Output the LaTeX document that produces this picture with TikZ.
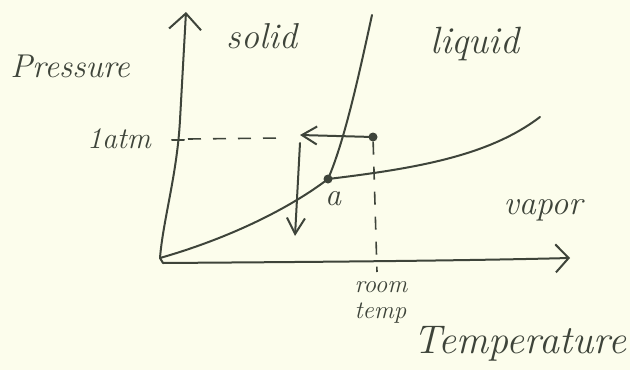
\documentclass[tikz,border=0pt]{standalone}
\usetikzlibrary{arrows.meta}
\definecolor{ink}{RGB}{62,68,58}
\definecolor{paper}{RGB}{252,253,236}
\begin{document}
\begin{tikzpicture}[x=1pt,y=-1pt,
  pen/.style={draw=ink,line width=2pt,line cap=round,line join=round},
  guide/.style={draw=ink,line width=1.6pt,dash pattern=on 13pt off 12pt},
  hand/.style={text=ink,font=\itshape,inner sep=0pt},
  dotpt/.style={circle,fill=ink,inner sep=0pt,minimum size=9pt}]
\useasboundingbox[fill=paper] (0,0) rectangle (630,370);
% key points
\coordinate (origin) at (160,258);
\coordinate (ytop) at (186,12);
\coordinate (xend) at (570,258);
\coordinate (tickL) at (172,140);
\coordinate (tickR) at (184,140);
\coordinate (dashstart) at (188,139);
\coordinate (dashend) at (282,138);
\coordinate (axisroom) at (377,272);
\coordinate (harrowtip) at (300,135);
\coordinate (dstart) at (300,143);
\coordinate (dtip) at (295,236);
\coordinate (melttop) at (372,15);
\coordinate (vapend) at (540,117);
\node[dotpt] (tp) at (328,179) {};
\node[dotpt] (pt) at (373,137) {};
% axes
\draw[pen,-{Straight Barb[length=16pt,width=32pt,line width=2pt]}] (origin) .. controls (163,220) and (177,175) .. (180,120) -- (ytop);
\draw[pen,-{Straight Barb[length=13pt,width=28pt,line width=2pt]}] (origin) -- (163,263) .. controls (300,262) and (450,261) .. (xend);
\draw[pen] (tickL) -- (tickR);
% guides
\draw[guide] (dashstart) -- (dashend);
\draw[guide] (pt) -- (axisroom);
% phase boundaries
\draw[pen] (origin) .. controls (230,238) and (290,208) .. (tp.center);
\draw[pen] (tp.center) .. controls (345,140) and (360,70) .. (melttop);
\draw[pen] (tp.center) .. controls (420,168) and (490,155) .. (vapend);
% path arrows
\draw[pen,-{Straight Barb[length=15pt,width=18pt,line width=2pt]}] (pt.center) -- (harrowtip);
\draw[pen,-{Straight Barb[length=16pt,width=18pt,line width=2pt]}] (dstart) -- (dtip);
% labels
\node[hand,font=\itshape\fontsize{33}{34}\selectfont] (lp) at (70,66) {Pressure};
\node[hand,font=\itshape\fontsize{30}{30}\selectfont] (latm) at (119,139) {1atm};
\node[hand,font=\itshape\fontsize{36}{36}\selectfont] (lsolid) at (262,36) {solid};
\node[hand,font=\itshape\fontsize{38}{38}\selectfont] (lliquid) at (475,44) {liquid};
\node[hand,font=\itshape\fontsize{34}{34}\selectfont] (lvapor) at (543,210) {vapor};
\node[hand,font=\itshape\fontsize{32}{32}\selectfont] (la) at (333,199) {a};
\node[hand,font=\itshape\fontsize{25}{26}\selectfont,align=left] (lroom) at (381,302) {room\\temp};
\node[hand,font=\itshape\fontsize{40}{40}\selectfont] (ltemp) at (520,344) {Temperature};
\end{tikzpicture}
\end{document}
